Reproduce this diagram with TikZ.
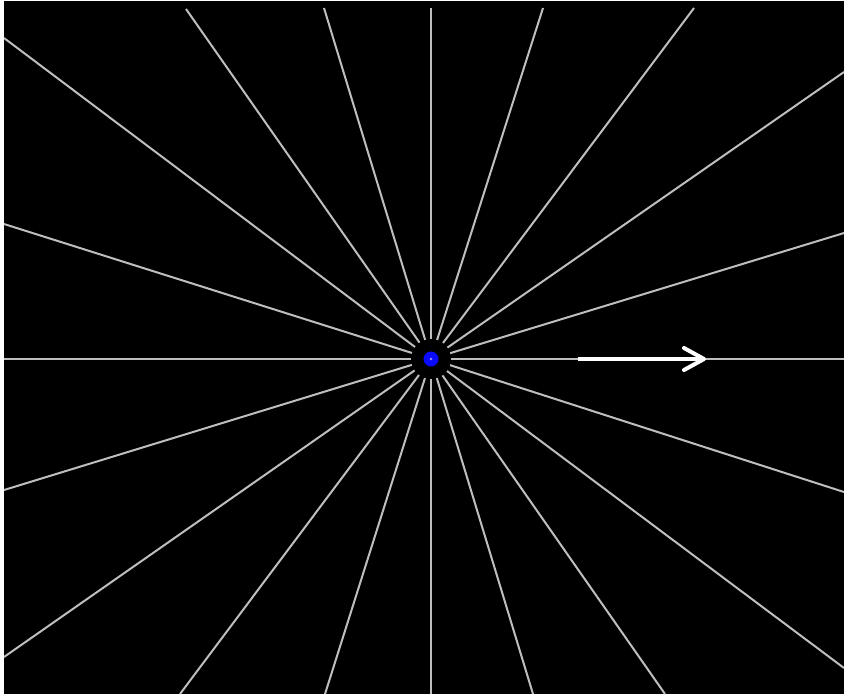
\documentclass[tikz,border=0pt]{standalone}
\usetikzlibrary{arrows.meta}
\definecolor{fieldgray}{RGB}{190,190,190}
\definecolor{chargeblue}{RGB}{10,10,255}
\definecolor{chargecore}{RGB}{150,150,255}
\tikzset{
  fieldline/.style={draw=fieldgray, line width=2pt},
  chargebox/.style={circle, minimum size=40pt, inner sep=0pt, outer sep=0pt},
  arrowline/.style={draw=white, line width=4pt, line cap=round, line join=round}
}
\begin{document}
\begin{tikzpicture}[x=1pt, y=-1pt]
\useasboundingbox (0,0) rectangle (844,694);
\fill[white] (0,0) rectangle (844,694);
\fill[black] (4,1) rectangle (844,694);
\begin{scope}
\clip (4,1) rectangle (844,694);
\node[chargebox] (c) at (431,359) {};
\coordinate (e1) at (844,359);
\coordinate (e2) at (844,233);
\coordinate (e3) at (844,72);
\coordinate (e4) at (694,8);
\coordinate (e5) at (543,8);
\coordinate (e6) at (431,8);
\coordinate (e7) at (324,8);
\coordinate (e8) at (186,9);
\coordinate (e9) at (4,38);
\coordinate (e10) at (4,224);
\coordinate (e11) at (4,359);
\coordinate (e12) at (4,490);
\coordinate (e13) at (4,657);
\coordinate (e14) at (180,694);
\coordinate (e15) at (325,694);
\coordinate (e16) at (431,694);
\coordinate (e17) at (533,694);
\coordinate (e18) at (665,694);
\coordinate (e19) at (844,668);
\coordinate (e20) at (844,492);
\foreach \i in {1,...,20} {\draw[fieldline] (c) -- (e\i);}
\end{scope}
\fill[chargeblue] (c.center) circle (7.5);
\fill[chargecore] (c.center) circle (1.3);
\coordinate (a1) at (578,359);
\coordinate (a2) at (704,359);
\coordinate (b1) at (684,348);
\coordinate (b2) at (684,370);
\draw[arrowline, line cap=butt] (a1) -- (a2);
\draw[arrowline] (b1) -- (a2) -- (b2);
\end{tikzpicture}
\end{document}
